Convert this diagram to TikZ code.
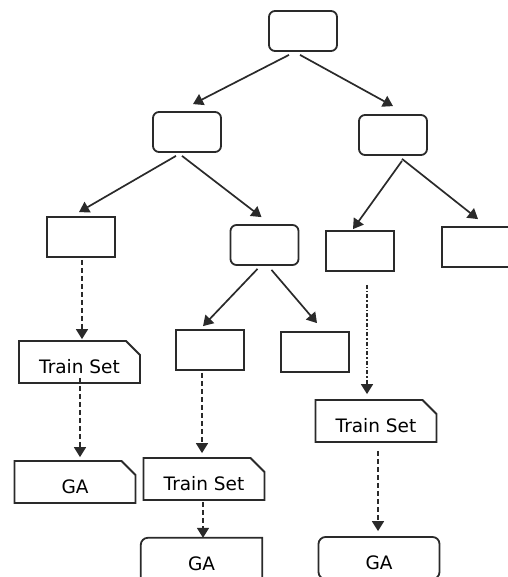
\documentclass[tikz,border=0pt]{standalone}
\usepackage{fontspec}
\setmainfont{DejaVu Sans}
\usetikzlibrary{arrows.meta,shapes.misc,calc}
\definecolor{linec}{HTML}{2A2A2A}
\begin{document}
\begin{tikzpicture}[x=1pt,y=-1pt,
  outline/.style={draw=linec, line width=1.8pt},
  box/.style={outline, minimum width=68pt, minimum height=40pt, inner sep=0pt},
  rbox/.style={box, rounded corners=6pt},
  txt/.style={font=\fontsize{18.5}{20}\selectfont, text height=22pt, text depth=0pt},
  chbox/.style={outline, txt, chamfered rectangle, chamfered rectangle corners=north east,
    chamfered rectangle xsep=7pt, chamfered rectangle ysep=7pt,
    minimum width=121pt, minimum height=42pt, inner sep=0pt},
  gabox/.style={txt, minimum width=121pt, minimum height=42pt, inner sep=0pt},
  tree/.style={draw=linec, line width=1.7pt, -{Triangle[length=10pt,width=12pt]}},
  dsh/.style={tree, dash pattern=on 5pt off 3pt},
  dshdot/.style={tree, dash pattern=on 4pt off 2pt on 1.5pt off 2pt}]
\useasboundingbox (0,0) rectangle (507,577);

% tree nodes
\node[rbox] (root) at (303,31) {};
\node[rbox] (L1) at (187,132) {};
\node[rbox] (R1) at (393,135) {};
\node[box] (LL) at (81,237) {};
\node[rbox] (LR) at (264.5,245) {};
\node[box] (RL) at (360,251) {};
\node[box] (RR) at (476,247) {};
\node[box] (LRL) at (210,350) {};
\node[box] (LRR) at (315,352) {};

% leaves
\node[chbox] (TS1) at (79.5,362) {Train Set\hspace{8pt}};
\node[chbox] (GA1) at (75,482) {GA\hspace{5pt}};
\node[chbox] (TS2) at (204,479) {Train Set\hspace{8pt}};
\node[gabox] (GA2) at (201.5,559) {GA};
\draw[outline] (GA2.south west) [rounded corners=7pt] -- (GA2.north west) [sharp corners] -- (GA2.north east) -- (GA2.south east);
\node[chbox] (TS3) at (376,421) {Train Set\hspace{8pt}};
\node[gabox, outline, rounded corners=7pt] (GA3) at (379,558) {GA};

% solid tree arrows
\draw[tree] ($(root.south)+(-14,3)$) -- ($(L1.north)+(6,-7)$);
\draw[tree] ($(root.south)+(-3,3)$) -- ($(R1.north)+(0,-8)$);
\draw[tree] ($(L1.south)+(-11,3)$) -- ($(LL.north)+(-2,-4)$);
\draw[tree] ($(L1.south)+(-5,3)$) -- ($(LR.north)+(-3,-7)$);
\draw[tree] ($(R1.south)+(9,5)$) -- ($(RL.north)+(-7,-1)$);
\draw[tree] ($(R1.south)+(9,3)$) -- ($(RR.north)+(2,-7)$);
\draw[tree] ($(LR.south)+(-7,3)$) -- ($(LRL.north)+(-7,-3)$);
\draw[tree] ($(LR.south)+(7,4)$) -- ($(LRR.north)+(2,-8)$);

% dashed arrows
\draw[dsh] ($(LL.south)+(1,2)$) -- ($(LL.south |- TS1.north)+(1,-1)$);
\draw[dsh] ($(TS1.south)+(0.5,-6)$) -- ($(TS1.south |- GA1.north)+(0.5,-3)$);
\draw[dsh] ($(LRL.south)+(-8,2)$) -- ($(LRL.south |- TS2.north)+(-8,-4)$);
\draw[dsh] ($(TS2.south)+(-1,1)$) -- ($(TS2.south |- GA2.north)+(-1,0)$);
\draw[dshdot] ($(RL.south)+(7,13)$) -- ($(RL.south |- TS3.north)+(7,-5)$);
\draw[dsh] ($(TS3.south)+(2,8)$) -- ($(TS3.south |- GA3.north)+(2,-5)$);
\end{tikzpicture}
\end{document}
